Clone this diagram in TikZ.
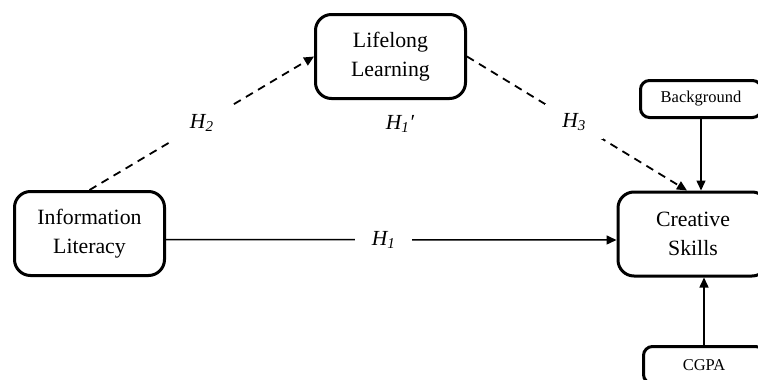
\documentclass[tikz,border=0pt]{standalone}
\usepackage{fontspec}
\setmainfont{Liberation Serif}
\usetikzlibrary{arrows.meta,calc}
\begin{document}
\begin{tikzpicture}[x=1pt,y=-1pt,
  bigbox/.style={draw,line width=3pt,rounded corners=16pt,minimum width=150pt,
    minimum height=84pt,align=center,inner sep=0pt,
    font=\fontsize{21.8}{29}\selectfont},
  smallbox/.style={draw,line width=3pt,rounded corners=9pt,minimum width=121pt,
    minimum height=37pt,inner sep=0pt,font=\fontsize{16.5}{20}\selectfont},
  hlabel/.style={fill=white,inner xsep=17pt,inner ysep=9pt,
    font=\fontsize{21.5}{25}\selectfont\itshape},
  link/.style={line width=1.5pt,-{Triangle[length=10pt,width=9pt]}},
  hypo/.style={link,line width=1.8pt,dash pattern=on 8pt off 6pt}]

% page frame; the right-hand boxes run past its edge
\useasboundingbox (0,0) rectangle (758,380);
\clip (0,0) rectangle (758,380);

% constructs
\node[bigbox] (il) at (89.5,233.5) {Information\\Literacy};
\node[bigbox] (ll) at (390.5,56.5) {Lifelong\\Learning};
\node[bigbox] (cs) at (693,234) {Creative\\Skills};
\node[smallbox] (bg) at (701,99) {Background};
\node[smallbox] (cg) at (704,365) {CGPA};

% direct effect
\draw[link] ([yshift=-6pt]il.east) -- ([yshift=-6pt]cs.west)
  node[hlabel,pos=0.483] (h1) {H\textsubscript{1}};

% mediated paths
\draw[hypo] (il.north) -- (ll.west)
  node[hlabel,pos=0.5] (h2) {H\textsubscript{2}};
\draw[hypo] (ll.east) -- ([xshift=-6pt]cs.north)
  node[hlabel,pos=0.487] (h3) {H\textsubscript{3}};
\node[font=\fontsize{21.5}{25}\selectfont\itshape] (h1p) at (400,124) {H\textsubscript{1}′};

% control variables
\draw[link] (bg.south) -- (bg.south |- cs.north);
\draw[link] (cg.north) -- (cg.north |- cs.south);
\end{tikzpicture}
\end{document}
